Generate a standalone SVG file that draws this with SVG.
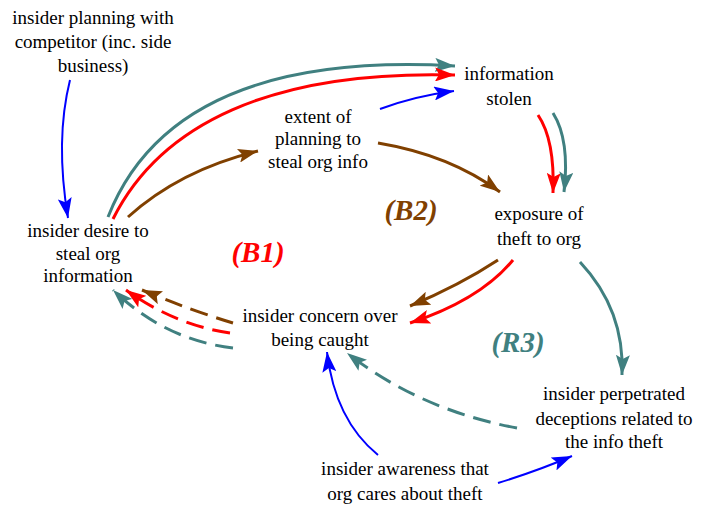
<svg xmlns="http://www.w3.org/2000/svg" width="702" height="508" viewBox="0 0 702 508">
<style>
.t{font-size:19px;fill:#000;text-anchor:middle}
.lp{font-size:29px;font-weight:bold;font-style:italic;text-anchor:middle}
.c{fill:none;stroke-width:3}
.teal{stroke:#408080}
.red{stroke:#ff0000}
.brown{stroke:#804000}
.blue{stroke:#0000ff;stroke-width:2}
.d{stroke-dasharray:18 9}
</style>
<defs>
<marker id="aT" markerUnits="userSpaceOnUse" markerWidth="22" markerHeight="14" refX="20" refY="7" orient="auto"><path d="M0,0 L20,7 L0,14 L4,7 z" fill="#408080"/></marker>
<marker id="aR" markerUnits="userSpaceOnUse" markerWidth="22" markerHeight="14" refX="20" refY="7" orient="auto"><path d="M0,0 L20,7 L0,14 L4,7 z" fill="#ff0000"/></marker>
<marker id="aBr" markerUnits="userSpaceOnUse" markerWidth="22" markerHeight="14" refX="20" refY="7" orient="auto"><path d="M0,0 L20,7 L0,14 L4,7 z" fill="#804000"/></marker>
<marker id="aBl" markerUnits="userSpaceOnUse" markerWidth="22" markerHeight="14" refX="20" refY="7" orient="auto"><path d="M0,0 L20,7 L0,14 L4,7 z" fill="#0000ff"/></marker>
</defs>
<g id="connectors">
<path class="c blue" d="M70,80 Q55,140 68,218" marker-end="url(#aBl)"/>
<path class="c teal" d="M108,217 C150,110 260,55 455,66" marker-end="url(#aT)"/>
<path class="c red" d="M113,219 C160,125 270,70 455,75" marker-end="url(#aR)"/>
<path class="c brown" d="M128,217 Q180,170 258,151" marker-end="url(#aBr)"/>
<path class="c blue" d="M380,109 Q415,96 454,91" marker-end="url(#aBl)"/>
<path class="c brown" d="M378,143 Q450,155 500,192" marker-end="url(#aBr)"/>
<path class="c red" d="M538,115 Q555,140 553,193" marker-end="url(#aR)"/>
<path class="c teal" d="M553,113 Q570,140 564,192" marker-end="url(#aT)"/>
<path class="c brown" d="M498,260 Q460,285 410,306" marker-end="url(#aBr)"/>
<path class="c red" d="M513,260 Q480,300 410,323" marker-end="url(#aR)"/>
<path class="c teal" d="M580,262 Q625,310 622,375" marker-end="url(#aT)"/>
<path class="c teal d" d="M517,428 Q420,410 347,353" marker-end="url(#aT)"/>
<path class="c blue" d="M378,455 Q335,420 327,352" marker-end="url(#aBl)"/>
<path class="c blue" d="M498,483 Q540,470 572,456" marker-end="url(#aBl)"/>
<path class="c brown d" d="M233,323 Q190,310 142,290" marker-end="url(#aBr)"/>
<path class="c red d" d="M230,333 Q175,325 126,290" marker-end="url(#aR)"/>
<path class="c teal d" d="M233,348 Q165,340 113,290" marker-end="url(#aT)"/>
</g>
<g id="planning-competitor"><text class="t" font-family="Liberation Serif" x="93" y="24">insider planning with</text><text class="t" font-family="Liberation Serif" x="93" y="48">competitor (inc. side</text><text class="t" font-family="Liberation Serif" x="93" y="72">business)</text></g>
<g id="information-stolen"><text class="t" font-family="Liberation Serif" x="509" y="80">information</text><text class="t" font-family="Liberation Serif" x="509" y="105">stolen</text></g>
<g id="extent-planning"><text class="t" font-family="Liberation Serif" x="318" y="123">extent of</text><text class="t" font-family="Liberation Serif" x="318" y="145">planning to</text><text class="t" font-family="Liberation Serif" x="318" y="168">steal org info</text></g>
<g id="exposure"><text class="t" font-family="Liberation Serif" x="539" y="220">exposure of</text><text class="t" font-family="Liberation Serif" x="539" y="245">theft to org</text></g>
<g id="desire"><text class="t" font-family="Liberation Serif" x="88" y="237">insider desire to</text><text class="t" font-family="Liberation Serif" x="88" y="260">steal org</text><text class="t" font-family="Liberation Serif" x="88" y="282">information</text></g>
<g id="concern"><text class="t" font-family="Liberation Serif" x="320" y="322">insider concern over</text><text class="t" font-family="Liberation Serif" x="320" y="346">being caught</text></g>
<g id="deceptions"><text class="t" font-family="Liberation Serif" x="614" y="400">insider perpetrated</text><text class="t" font-family="Liberation Serif" x="614" y="425">deceptions related to</text><text class="t" font-family="Liberation Serif" x="614" y="448">the info theft</text></g>
<g id="awareness"><text class="t" font-family="Liberation Serif" x="405" y="475">insider awareness that</text><text class="t" font-family="Liberation Serif" x="405" y="500">org cares about theft</text></g>
<g id="loops">
<text class="lp" font-family="Liberation Serif" x="258" y="262" fill="#ff0000">(B1)</text>
<text class="lp" font-family="Liberation Serif" x="411" y="220" fill="#804000">(B2)</text>
<text class="lp" font-family="Liberation Serif" x="518" y="352" fill="#408080">(R3)</text>
</g>
</svg>
